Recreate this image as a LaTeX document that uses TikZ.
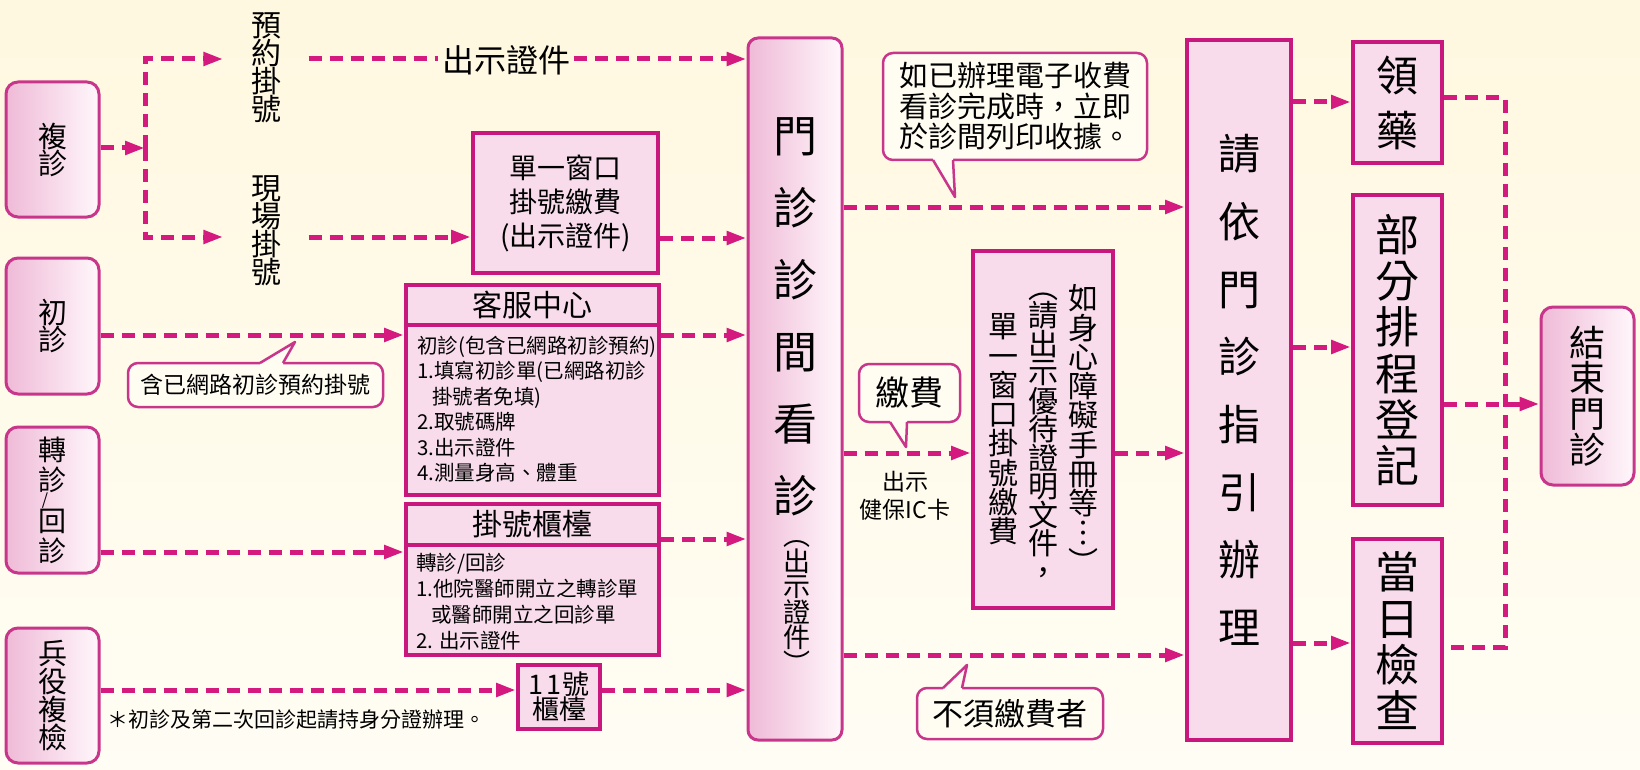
\documentclass[tikz,border=0pt]{standalone}
\usepackage{fontspec}
\setmainfont{Noto Sans CJK TC}
\usetikzlibrary{arrows.meta}
\definecolor{mag}{HTML}{D4197F}
\definecolor{bordc}{HTML}{C8187E}
\definecolor{boxfill}{HTML}{F8DCEC}
\definecolor{rbord}{HTML}{C8368B}
\definecolor{gradL}{HTML}{EFBAD7}
\definecolor{gradR}{HTML}{FFF7FB}
\definecolor{cbord}{HTML}{C8368B}
\definecolor{cfill}{HTML}{FFFCF2}
\definecolor{bgtop}{HTML}{FFF8E0}
\definecolor{bgbot}{HTML}{FFFDF4}
\newcommand{\myfs}[2]{\fontsize{#1}{#2}\selectfont}
\begin{document}
\begin{tikzpicture}[x=1pt,y=-1pt,
  flow/.style={draw=mag,line width=5pt,dash pattern=on 13pt off 8pt,-{Triangle[length=20pt,width=13pt]}},
  flowline/.style={draw=mag,line width=5pt,dash pattern=on 13pt off 8pt},
  sqbox/.style={draw=bordc,line width=4pt,fill=boxfill,inner sep=0pt,align=center},
  rbox/.style={draw=rbord,line width=3pt,rounded corners=12pt,left color=gradL,right color=gradR,inner sep=0pt,align=center},
  callout/.style={draw=cbord,line width=2.5pt,fill=cfill,rounded corners=10pt,inner sep=0pt,align=center},
  ptr/.style={draw=cbord,line width=2.5pt,line join=round},
  vt/.style={align=center,inner sep=0pt},
  divider/.style={draw=bordc,line width=4pt}]
\useasboundingbox (0,0) rectangle (1640,770);
\shade[top color=bgtop,bottom color=bgbot] (0,0) rectangle (1640,770);

% left column
\node[rbox,minimum width=93pt,minimum height=135pt,font=\myfs{29}{27}] (fz) at (52.5,149.5) {複\\診};
\node[rbox,minimum width=93pt,minimum height=136pt,font=\myfs{29}{26}] (cz) at (52.5,326) {初\\診};
\node[rbox,minimum width=93pt,minimum height=146pt] (zz) at (52.5,500) {};
\node[vt,font=\myfs{28}{30}] (zzA) at (52.5,465) {轉\\診};
\node[vt,font=\myfs{16}{16}] (zzS) at (45,500.5) {/};
\node[vt,font=\myfs{28}{30}] (zzB) at (52.5,536) {回\\診};
\node[rbox,minimum width=93pt,minimum height=135pt,font=\myfs{29}{28}] (by) at (52.5,695.5) {兵\\役\\複\\檢};

% top texts
\node[vt,inner xsep=27.5pt,font=\myfs{30}{28}] (yy) at (266,68) {預\\約\\掛\\號};
\node[vt,inner xsep=27.5pt,font=\myfs{30}{28}] (xc) at (266,231) {現\\場\\掛\\號};
\node[font=\myfs{32}{32},inner sep=4pt] (cs) at (506,60) {出示證件};

% middle boxes
\node[sqbox,minimum width=185pt,minimum height=140pt,font=\myfs{28}{34}] (dc) at (565.5,203) {單一窗口\\掛號繳費\\(出示證件)};
\node[sqbox,minimum width=253pt,minimum height=210pt] (kf) at (532.5,390) {};
\draw[divider] (kf.west |- 0,325) -- (kf.east |- 0,325);
\node[font=\myfs{30}{30}] (kfh) at (532.5,305) {客服中心};
\node[anchor=north west,inner sep=0pt,align=left,font=\myfs{20.5}{25.4}] (kfb) at (417,336) {初診(包含已網路初診預約)\\1.填寫初診單(已網路初診\\\hspace*{15pt}掛號者免填)\\2.取號碼牌\\3.出示證件\\4.測量身高、體重};
\node[sqbox,minimum width=253pt,minimum height=151pt] (gh) at (532.5,579.5) {};
\draw[divider] (gh.west |- 0,545) -- (gh.east |- 0,545);
\node[font=\myfs{30}{30}] (ghh) at (532.5,524) {掛號櫃檯};
\node[anchor=north west,inner sep=0pt,align=left,font=\myfs{20.5}{26}] (ghb) at (416,553) {轉診/回診\\1.他院醫師開立之轉診單\\\hspace*{15pt}或醫師開立之回診單\\2. 出示證件};
\node[sqbox,minimum width=82pt,minimum height=64pt,font=\myfs{27}{25}] (g11) at (559,697) {1\kern3pt 1\kern1pt 號\\櫃檯};
\node[anchor=west,inner sep=0pt,font=\myfs{21}{21}] (fn) at (107,720) {＊初診及第二次回診起請持身分證辦理。};

% main clinic box
\node[rbox,rounded corners=10pt,minimum width=94pt,minimum height=702pt] (mz) at (795,389) {};
\node[vt,font=\myfs{44}{72}] (mzt) at (795,317) {門\\診\\診\\間\\看\\診};
\node[vt,font=\myfs{27}{25.5}] (mzs) at (797,599) {\vphantom{出}︵\\出\\示\\證\\件\\︶\vphantom{出}};

% payment vertical box
\node[sqbox,minimum width=140pt,minimum height=357pt] (vb) at (1043,429.5) {};
\node[vt,anchor=north,font=\myfs{30}{29.3}] (vr) at (1083,284.5) {如\\身\\心\\障\\礙\\手\\冊\\等\\︙\\︶};
\node[vt,anchor=north,font=\myfs{30}{28.5}] (vm) at (1043,273) {\vphantom{請}︵\\請\\出\\示\\優\\待\\證\\明\\文\\件\\，};
\node[vt,anchor=north,font=\myfs{30}{29.3}] (vl) at (1003,313.5) {單\\一\\窗\\口\\掛\\號\\繳\\費};
\node[vt,font=\myfs{23}{28}] (ic) at (905,496) {出示\\健保IC卡};

% guide box and right boxes
\node[sqbox,minimum width=104pt,minimum height=700pt,font=\myfs{42}{67.7}] (qy) at (1239,390) {請\\依\\門\\診\\指\\引\\辦\\理};
\node[sqbox,minimum width=89pt,minimum height=121pt,font=\myfs{42}{55}] (ly) at (1397.5,102.5) {領\\藥};
\node[sqbox,minimum width=89pt,minimum height=310pt,font=\myfs{44}{46.2}] (bf) at (1397.5,350) {部\\分\\排\\程\\登\\記};
\node[sqbox,minimum width=89pt,minimum height=204pt,font=\myfs{44}{46.3}] (dr) at (1397.5,641) {當\\日\\檢\\查};
\node[rbox,minimum width=93pt,minimum height=178pt,font=\myfs{36}{35.7}] (js) at (1587.5,396) {結\\束\\門\\診};

% connectors
\coordinate (jn) at (145,148);
\draw[flow] (fz.east |- jn) -- (jn);
\draw[flow] (jn) |- (yy.west |- 0,59);
\draw[flow] (jn) |- (xc.west |- 0,237);
\draw[flowline] (yy.east |- 0,59) -- (cs.west |- 0,59);
\draw[flow] (cs.east |- 0,59) -- (mz.west |- 0,59);
\draw[flow] (xc.east |- 0,237) -- (dc.west |- 0,237);
\draw[flow] (dc.east |- 0,238) -- (mz.west |- 0,238);
\draw[flow] (cz.east |- 0,335) -- (kf.west |- 0,335);
\draw[flow] (kf.east |- 0,335) -- (mz.west |- 0,335);
\draw[flow] (zz.east |- 0,552) -- (gh.west |- 0,552);
\draw[flow] (gh.east |- 0,539) -- (mz.west |- 0,539);
\draw[flow] (by.east |- 0,690) -- (g11.west |- 0,690);
\draw[flow] (g11.east |- 0,690) -- (mz.west |- 0,690);
\draw[flow] (mz.east |- 0,207) -- (qy.west |- 0,207);
\draw[flow] (mz.east |- 0,453) -- (vb.west |- 0,453);
\draw[flow] (vb.east |- 0,453) -- (qy.west |- 0,453);
\draw[flow] (mz.east |- 0,655) -- (qy.west |- 0,655);
\draw[flow] (qy.east |- 0,102) -- (ly.west |- 0,102);
\draw[flow] (qy.east |- 0,347) -- (bf.west |- 0,347);
\draw[flow] (qy.east |- 0,643) -- (dr.west |- 0,643);
\coordinate (rj) at (1505,404);
\draw[flowline] (ly.east |- 0,98) -| (rj) |- (dr.east |- 0,647);
\draw[flow] (bf.east |- 0,404) -- (js.west |- 0,404);

% callouts
\node[callout,minimum width=264pt,minimum height=107pt,font=\myfs{29}{30.5}] (cb1) at (1015,106.5) {如已辦理電子收費\\看診完成時，立即\\於診間列印收據。};
\fill[cfill] (933,156) -- (933,160) -- (955,197) -- (953,160) -- (953,156) -- cycle;
\draw[ptr] (933,160) -- (955,197) -- (953,160);

\node[callout,minimum width=101pt,minimum height=58pt,font=\myfs{34}{34}] (cb2) at (909.5,393) {繳費};
\fill[cfill] (890,418) -- (890,422) -- (906,447) -- (907,422) -- (907,418) -- cycle;
\draw[ptr] (890,422) -- (906,447) -- (907,422);

\node[callout,minimum width=186pt,minimum height=51pt,font=\myfs{31}{31}] (cb3) at (1010,713.5) {不須繳費者};
\fill[cfill] (943,692) -- (943,688) -- (967,665) -- (962,688) -- (962,692) -- cycle;
\draw[ptr] (943,688) -- (967,665) -- (962,688);

\node[callout,minimum width=255pt,minimum height=44pt,font=\myfs{23}{23}] (cb4) at (255.5,385) {含已網路初診預約掛號};
\fill[cfill] (260,367) -- (260,363) -- (295,342) -- (283,363) -- (283,367) -- cycle;
\draw[ptr] (260,363) -- (295,342) -- (283,363);
\end{tikzpicture}
\end{document}
